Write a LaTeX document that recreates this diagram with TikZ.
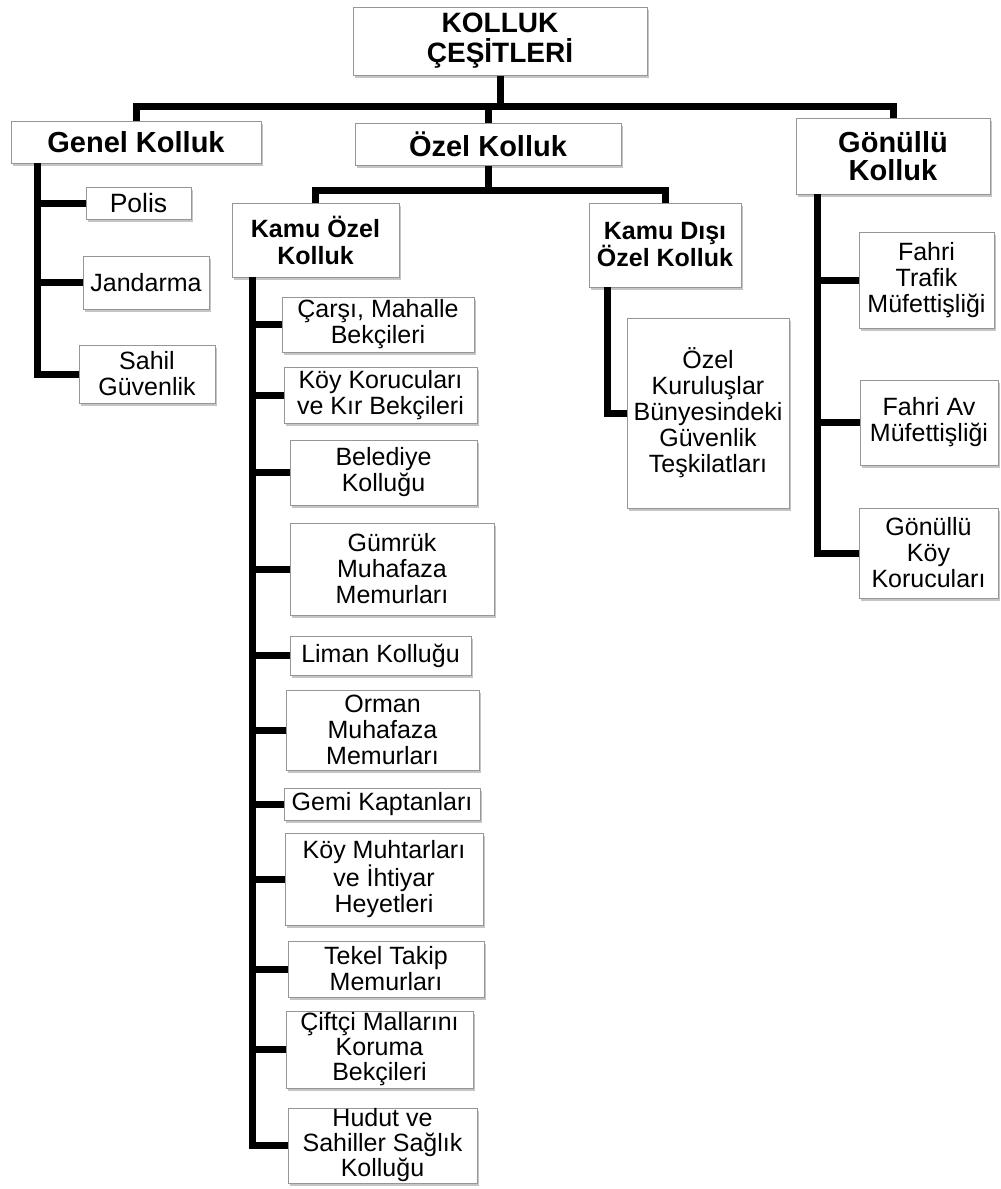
\documentclass[tikz,border=0pt]{standalone}
\usepackage{fontspec}
\setmainfont{Liberation Sans}
\usetikzlibrary{shadows}

\begin{document}
\begin{tikzpicture}[
        x=1pt, y=-1pt,
        Box/.style={draw={rgb,255:red,150;green,150;blue,150}, line width=1pt, fill=white,
            drop shadow={shadow xshift=2pt, shadow yshift=-3pt, opacity=.5, fill=black!45},
            inner sep=0pt, align=center},
        Dim/.style 2 args={minimum width=#1pt, minimum height=#2pt},
        Leaf/.style={Box, font=\fontsize{25}{26}\selectfont},
        Head/.style={Box, font=\bfseries\fontsize{29}{28}\selectfont},
        SubHead/.style={Box, font=\bfseries\fontsize{25}{27}\selectfont},
        Link/.style={line width=7pt, line join=miter},
    ]
    \useasboundingbox (0,0) rectangle (1001,1189);

    \node[Box, Dim={294}{68}, font=\bfseries\fontsize{28}{30}\selectfont] (root) at (500,41) {KOLLUK\\ÇEŞİTLERİ};

    \node[Head, Dim={250}{42}] (genel) at (136,142) {Genel Kolluk};
    \node[Head, Dim={266}{42}] (ozel) at (488,144) {Özel Kolluk};
    \node[Head, Dim={194}{76}] (gonullu) at (893,156) {Gönüllü\\Kolluk};

    \node[SubHead, Dim={167}{74}] (kamuozel) at (315.5,240) {Kamu Özel\\Kolluk};
    \node[SubHead, Dim={152}{84}] (kamudisi) at (665,245) {Kamu Dışı\\Özel Kolluk};

    \node[Leaf, Dim={105}{32}, font=\fontsize{26.5}{27}\selectfont] (polis) at (138.5,203) {Polis};
    \node[Leaf, Dim={126}{53}] (jandarma) at (146,282.5) {Jandarma};
    \node[Leaf, Dim={136}{58}] (sahil) at (147,374) {Sahil\\Güvenlik};

    \node[Leaf, Dim={192}{55}] (carsi) at (378,324.5) {Çarşı, Mahalle\\Bekçileri};
    \node[Leaf, Dim={193}{56}] (koykoruculari) at (380.5,395) {Köy Korucuları\\ve Kır Bekçileri};
    \node[Leaf, Dim={187}{65}] (belediye) at (383.5,472.5) {Belediye\\Kolluğu};
    \node[Leaf, Dim={204}{92}] (gumruk) at (392,569) {Gümrük\\Muhafaza\\Memurları};
    \node[Leaf, Dim={181}{39}] (liman) at (380.5,655.5) {Liman Kolluğu};
    \node[Leaf, Dim={193}{80}] (orman) at (382.5,730) {Orman\\Muhafaza\\Memurları};
    \node[Leaf, Dim={196}{32}] (gemi) at (382,804) {Gemi Kaptanları};
    \node[Leaf, Dim={198}{92}] (muhtar) at (384,879) {Köy Muhtarları\\ve İhtiyar\\Heyetleri};
    \node[Leaf, Dim={196}{56}] (tekel) at (386,969) {Tekel Takip\\Memurları};
    \node[Leaf, Dim={187}{77}, font=\fontsize{25}{25}\selectfont] (ciftci) at (379.5,1049.5) {Çiftçi Mallarını\\Koruma\\Bekçileri};
    \node[Leaf, Dim={189}{75}, font=\fontsize{25}{25}\selectfont] (hudut) at (382.5,1145.5) {Hudut ve\\Sahiller Sağlık\\Kolluğu};

    \node[Leaf, Dim={162}{190}] (kurulus) at (708,413) {Özel\\Kuruluşlar\\Bünyesindeki\\Güvenlik\\Teşkilatları};

    \node[Leaf, Dim={135}{96}] (trafik) at (926.5,280) {Fahri\\Trafik\\Müfettişliği};
    \node[Leaf, Dim={138}{85}] (av) at (929,422.5) {Fahri Av\\Müfettişliği};
    \node[Leaf, Dim={139}{90}] (koycu) at (928.5,553) {Gönüllü\\Köy\\Korucuları};

    \coordinate (TopBar) at (0,106);
    \coordinate (OzelBar) at (0,190);
    \coordinate (GenelTrunk) at (37,163);
    \coordinate (KamuTrunk) at (252,277);
    \coordinate (DisiTrunk) at (607,287);
    \coordinate (GonulluTrunk) at (817,194);

    \draw[Link] (root.south) -- (root.south |- TopBar);
    \draw[Link] (genel.north) |- (gonullu.north |- TopBar) -- (gonullu.north);
    \draw[Link] (ozel.north) -- (ozel.north |- TopBar);

    \draw[Link] (ozel.south) -- (ozel.south |- OzelBar);
    \draw[Link] (kamuozel.north) |- (kamudisi.north |- OzelBar) -- (kamudisi.north);

    \foreach \n in {polis,jandarma,sahil}
        \draw[Link] (GenelTrunk) |- (\n.west);
    \foreach \n in {carsi,koykoruculari,belediye,gumruk,liman,orman,gemi,muhtar,tekel,ciftci,hudut}
        \draw[Link] (KamuTrunk) |- (\n.west);
    \draw[Link] (DisiTrunk) |- (kurulus.west);
    \foreach \n in {trafik,av,koycu}
        \draw[Link] (GonulluTrunk) |- (\n.west);
\end{tikzpicture}
\end{document}
